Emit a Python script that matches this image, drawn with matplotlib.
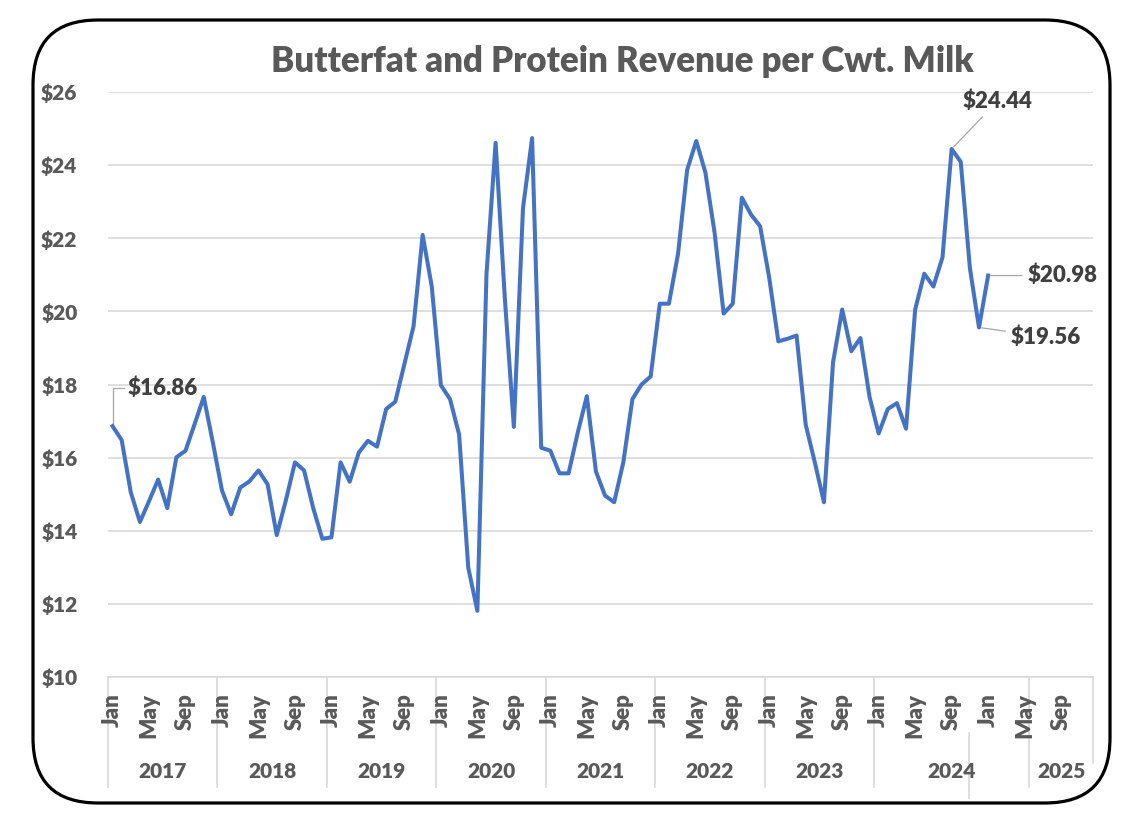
import matplotlib
matplotlib.use("Agg")
import matplotlib.pyplot as plt
import numpy as np
from matplotlib.patches import FancyBboxPatch
from matplotlib.lines import Line2D

# monthly revenue, Jan 2017 .. Jan 2025 ($/cwt)
revenue = [
    16.86, 16.48, 15.05, 14.24, 14.81, 15.40, 14.62, 16.01, 16.19, 16.92, 17.66, 16.41,   # 2017
    15.10, 14.45, 15.18, 15.35, 15.65, 15.27, 13.88, 14.83, 15.87, 15.65, 14.62, 13.78,   # 2018
    13.82, 15.87, 15.34, 16.14, 16.46, 16.30, 17.33, 17.53, 18.56, 19.59, 22.09, 20.68,   # 2019
    17.98, 17.60, 16.63, 12.99, 11.81, 21.03, 24.61, 20.40, 16.84, 22.82, 24.74, 16.27,   # 2020
    16.19, 15.57, 15.57, 16.68, 17.68, 15.62, 14.96, 14.78, 15.87, 17.60, 18.00, 18.22,   # 2021
    20.21, 20.21, 21.57, 23.87, 24.66, 23.80, 22.17, 19.94, 20.21, 23.11, 22.65, 22.33,   # 2022
    20.92, 19.18, 19.25, 19.34, 16.90, 15.87, 14.78, 18.61, 20.05, 18.91, 19.27, 17.66,   # 2023
    16.66, 17.33, 17.49, 16.79, 20.05, 21.03, 20.68, 21.48, 24.44, 24.09, 21.19, 19.56,   # 2024
    20.98,                                                                                # 2025
]
n_categories = 108  # axis runs through Dec 2025
month_names = ["Jan", "May", "Sep"]
years = ["2017", "2018", "2019", "2020", "2021", "2022", "2023", "2024", "2025"]
# category index where each year group starts (as drawn on the original axis)
year_starts = [0, 12, 24, 36, 48, 60, 72, 84, 101, 108]

# labelled points: (index, text)
callouts = [(0, "$16.86"), (92, "$24.44"), (95, "$19.56"), (96, "$20.98")]

gray = "#595959"
dark = "#404040"
blue = "#4472C4"
font = "Lato"
weight = "heavy"

fig = plt.figure(figsize=(11.46, 8.26), dpi=100)

# rounded frame around the whole chart
bg = fig.add_axes([0, 0, 1, 1])
bg.set_xlim(0, 1146)
bg.set_ylim(826, 0)
bg.axis("off")
bg.add_patch(FancyBboxPatch((33, 20), 1077, 783,
                            boxstyle="round,pad=0,rounding_size=65",
                            fc="white", ec="black", lw=2.3))

ax = fig.add_axes([108 / 1146, 149 / 826, 985 / 1146, 585 / 826])
ax.patch.set_alpha(0)
x = np.arange(len(revenue))
ax.plot(x, revenue, color=blue, lw=2.9, solid_joinstyle="round", zorder=3)

ax.set_xlim(-0.5, n_categories - 0.5)
ax.set_ylim(10, 26)
ax.set_yticks(np.arange(10, 27, 2))
ax.set_yticklabels([f"${v}" for v in range(10, 27, 2)], fontsize=15,
                   fontweight=weight, color=gray, family=font)
ax.tick_params(axis="y", length=0, pad=22)
ax.grid(axis="y", color="#d9d9d9", lw=1.2)
ax.set_axisbelow(True)
for s in ["top", "right", "left"]:
    ax.spines[s].set_visible(False)
ax.spines["bottom"].set_color("#d9d9d9")
ax.spines["bottom"].set_linewidth(1.2)
ax.set_xticks([])

tr = ax.get_xaxis_transform()
# month labels
for i in range(0, n_categories, 4):
    ax.text(i, -0.027, month_names[(i % 12) // 4], transform=tr, rotation=90,
            ha="center", va="top", fontsize=16, fontweight=weight,
            color=gray, family=font)

# year groups
for k, yr in enumerate(years):
    a, b = year_starts[k], year_starts[k + 1]
    ax.text((a + b - 1) / 2, -0.162, yr, transform=tr, ha="center",
            va="center", fontsize=15, fontweight=weight, color=gray,
            family=font)
for k, s in enumerate(year_starts):
    bottom = -0.188 if k < len(year_starts) - 1 else -0.147
    ax.add_line(Line2D([s - 0.5, s - 0.5], [0, bottom], transform=tr,
                       color="#d9d9d9", lw=1.2, clip_on=False))
ax.add_line(Line2D([93.9, 93.9], [-0.096, -0.207], transform=tr,
                   color="#d9d9d9", lw=1.2, clip_on=False))

# data callouts
lab = dict(fontsize=16, fontweight=weight, color=dark, family=font)
leader = dict(arrowstyle="-", color="#a6a6a6", lw=0.9)
i, t = callouts[0]
ax.plot([i, i, i + 1.3], [revenue[i], 17.9, 17.9], color="#a6a6a6", lw=0.9)
ax.text(i + 1.6, 17.9, t, ha="left", va="center", **lab)
i, t = callouts[1]
ax.annotate(t, (i, revenue[i]), xytext=(i + 5, 25.45), ha="center",
            va="bottom", arrowprops=leader, **lab)
i, t = callouts[2]
ax.annotate(t, (i, revenue[i]), xytext=(i + 3.5, 19.3), ha="left",
            va="center", arrowprops=leader, **lab)
i, t = callouts[3]
ax.annotate(t, (i, revenue[i]), xytext=(i + 4.3, revenue[i]), ha="left",
            va="center", arrowprops=leader, **lab)

fig.text(622 / 1146, 1 - 62 / 826, "Butterfat and Protein Revenue per Cwt. Milk",
         ha="center", va="center", fontsize=25, fontweight=weight,
         color=gray, family=font)

fig.savefig("out.png", dpi=100)
